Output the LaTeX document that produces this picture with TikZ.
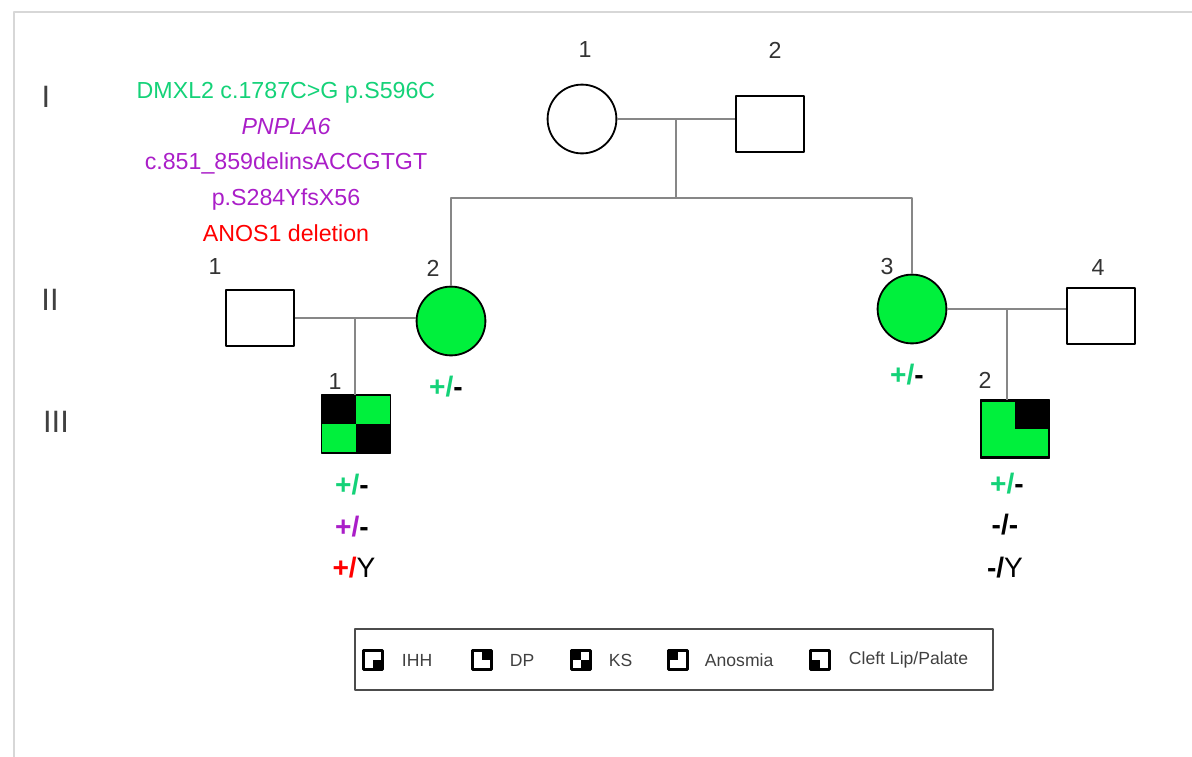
\documentclass[tikz,border=0pt]{standalone}
\usepackage{fontspec}
\setmainfont{Liberation Sans}
\usetikzlibrary{calc}
\definecolor{mutgreen}{RGB}{20,210,120}
\definecolor{mutpurple}{RGB}{170,30,200}
\definecolor{affgreen}{RGB}{0,240,60}
\definecolor{framegray}{RGB}{215,215,215}
\definecolor{linkgray}{RGB}{135,135,135}
\begin{document}
\begin{tikzpicture}[x=0.025cm,y=-0.025cm,line join=round,
  male/.style={draw=black,line width=1.3pt,fill=white,minimum width=1.68cm,minimum height=1.42cm,inner sep=0pt},
  female/.style={circle,draw=black,line width=1.3pt,fill=white,minimum size=1.72cm,inner sep=0pt},
  link/.style={draw=linkgray,line width=1.3pt},
  num/.style={text=black!80,font=\fontsize{16.5}{18}\selectfont},
  gen/.style={text=black!75,font=\fontsize{22}{24}\selectfont},
  geno/.style={font=\fontsize{20}{22}\selectfont\bfseries},
  mut/.style={font=\fontsize{16.5}{25.5}\selectfont,align=center},
  legicon/.style={fill=white,minimum size=0.45cm,inner sep=0pt},
  legtext/.style={text=black!75,font=\fontsize{12.5}{14}\selectfont,anchor=west}]
\useasboundingbox (0,0) rectangle (1192,757);
% frame
\draw[framegray,line width=2pt] (14,760) -- (14,12) -- (1196,12);
% generations
\node[gen] (gI) at (46,97) {I};
\node[gen] (gII) at (50,300) {II};
\node[gen] (gIII) at (56,422) {III};
% variants
\node[mut] (vars) at (286,162) {\textcolor{mutgreen}{DMXL2 c.1787C>G p.S596C}\\
  \textcolor{mutpurple}{\itshape PNPLA6}\\
  \textcolor{mutpurple}{c.851\_859delinsACCGTGT}\\
  \textcolor{mutpurple}{p.S284YfsX56}\\
  \textcolor{red}{ANOS1 deletion}};
% individuals
\node[female] (i1) at (582,119) {};
\node[male] (i2) at (770,124) {};
\node[male] (ii1) at (260,318) {};
\node[female,fill=affgreen] (ii2) at (451,321) {};
\node[female,fill=affgreen] (ii3) at (912,309) {};
\node[male] (ii4) at (1101,316) {};
\node[male] (iii1) at (356,424) {};
\node[male,fill=affgreen] (iii2) at (1015,429) {};
\fill[affgreen] (iii1.north west) rectangle (iii1.south east);
\fill (iii1.north west) rectangle (iii1.center);
\fill (iii1.center) rectangle (iii1.south east);
\draw[line width=1.3pt] (iii1.north west) rectangle (iii1.south east);
\fill (iii2.center) rectangle (iii2.north east);
\draw[line width=1.3pt] (iii2.north west) rectangle (iii2.south east);
% numbers
\node[num] (ni1) at (585,50) {1};
\node[num] (ni2) at (775,50) {2};
\node[num] (nii1) at (215,267) {1};
\node[num] (nii2) at (433,268) {2};
\node[num] (nii3) at (887,267) {3};
\node[num] (nii4) at (1098,268) {4};
\node[num] (niii1) at (335,382) {1};
\node[num] (niii2) at (985,380) {2};
% lines of descent
\draw[link] (i1.east) -- (i1.east -| i2.west);
\coordinate (c1) at ($(i1.east)!.5!(i1.east -| i2.west)$);
\coordinate (sib) at ($(c1)+(0,79)$);
\draw[link] (c1) -- (sib);
\draw[link] (ii2.north) |- (sib) -| (ii3.north);
\draw[link] (ii1.east) -- (ii1.east -| ii2.west);
\coordinate (c2) at ($(ii1.east)!.5!(ii1.east -| ii2.west)$);
\draw[link] (c2) -- (c2 |- iii1.north);
\draw[link] (ii3.east) -- (ii3.east -| ii4.west);
\coordinate (c3) at ($(ii3.east)!.5!(ii3.east -| ii4.west)$);
\draw[link] (c3) -- (c3 |- iii2.north);
% genotypes
\node[geno] (gtii2) at (446,387) {\textcolor{mutgreen}{+/}-};
\node[geno] (gtii3) at (907,375) {\textcolor{mutgreen}{+/}-};
\node[geno] (gtiii1a) at (352,485) {\textcolor{mutgreen}{+/}-};
\node[geno] (gtiii1b) at (352,527) {\textcolor{mutpurple}{+/}-};
\node[geno] (gtiii1c) at (354,568) {\textcolor{red}{+/}{\mdseries Y}};
\node[geno] (gtiii2a) at (1007,484) {\textcolor{mutgreen}{+/}-};
\node[geno] (gtiii2b) at (1005,525) {-/-};
\node[geno] (gtiii2c) at (1005,568) {-/{\mdseries Y}};
% legend
\draw[black!70,line width=0.9pt] (355,629) rectangle (993,690);
\node[legicon] (kIHH) at (373,660) {};
\node[legicon] (kDP) at (482,660) {};
\node[legicon] (kKS) at (581,660) {};
\node[legicon] (kAn) at (678,660) {};
\node[legicon] (kCL) at (820,660) {};
\fill (kIHH.center) rectangle (kIHH.south east);
\fill (kDP.center) rectangle (kDP.north east);
\fill (kKS.north west) rectangle (kKS.center);
\fill (kKS.center) rectangle (kKS.south east);
\fill (kAn.north west) rectangle (kAn.center);
\fill (kCL.center) rectangle (kCL.south west);
\foreach \k in {kIHH,kDP,kKS,kAn,kCL}
  \draw[line width=2.2pt] (\k.north west) rectangle (\k.south east);
\node[legtext] (tIHH) at (397,660) {IHH};
\node[legtext] (tDP) at (505,660) {DP};
\node[legtext] (tKS) at (604,660) {KS};
\node[legtext] (tAn) at (700,660) {Anosmia};
\node[legtext] (tCL) at (844,660) {Cleft Lip/Palate};
\end{tikzpicture}
\end{document}
